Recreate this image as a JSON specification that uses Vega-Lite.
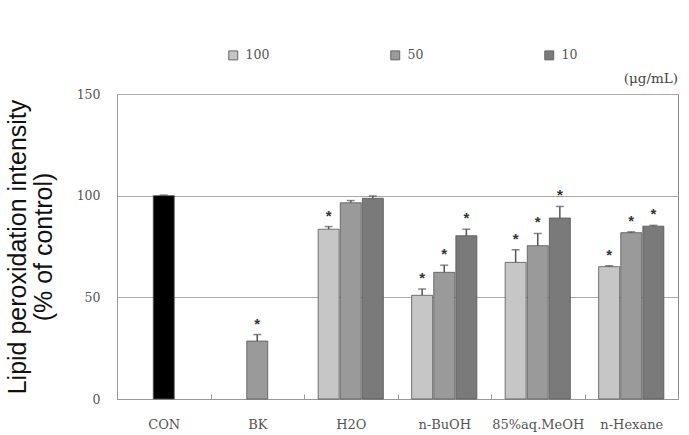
{
  "$schema": "https://vega.github.io/schema/vega-lite/v6.json",
  "width": 561,
  "height": 305,
  "autosize": {"type": "none"},
  "padding": {"left": 117, "top": 94, "right": 11, "bottom": 36},
  "background": "white",
  "title": {
    "text": "(μg/mL)",
    "anchor": "end",
    "orient": "top",
    "frame": "group",
    "offset": -36,
    "font": "DejaVu Serif",
    "fontSize": 13.5,
    "fontWeight": "normal",
    "color": "#444"
  },
  "config": {
    "view": {"stroke": "#888", "strokeWidth": 1},
    "axis": {"labelFont": "DejaVu Serif", "labelFontSize": 12.5, "labelColor": "#555"}
  },
  "data": {
    "values": [
      {"group": "CON", "slot": "b", "series": "CON", "value": 100, "err": 0.3, "sig": ""},
      {"group": "BK", "slot": "b", "series": "50", "value": 28.5, "err": 3.2, "sig": "*"},
      {"group": "H2O", "slot": "a", "series": "100", "value": 83.5, "err": 1.3, "sig": "*"},
      {"group": "H2O", "slot": "b", "series": "50", "value": 96.5, "err": 1.1, "sig": ""},
      {"group": "H2O", "slot": "c", "series": "10", "value": 98.7, "err": 1.1, "sig": ""},
      {"group": "n-BuOH", "slot": "a", "series": "100", "value": 51, "err": 3.1, "sig": "*"},
      {"group": "n-BuOH", "slot": "b", "series": "50", "value": 62.3, "err": 3.5, "sig": "*"},
      {"group": "n-BuOH", "slot": "c", "series": "10", "value": 80.3, "err": 3.2, "sig": "*"},
      {"group": "85%aq.MeOH", "slot": "a", "series": "100", "value": 67.2, "err": 6.2, "sig": "*"},
      {"group": "85%aq.MeOH", "slot": "b", "series": "50", "value": 75.4, "err": 6.0, "sig": "*"},
      {"group": "85%aq.MeOH", "slot": "c", "series": "10", "value": 89, "err": 5.7, "sig": "*"},
      {"group": "n-Hexane", "slot": "a", "series": "100", "value": 65.1, "err": 0.4, "sig": "*"},
      {"group": "n-Hexane", "slot": "b", "series": "50", "value": 81.8, "err": 0.4, "sig": "*"},
      {"group": "n-Hexane", "slot": "c", "series": "10", "value": 85, "err": 0.4, "sig": "*"}
    ]
  },
  "transform": [{"calculate": "datum.value + datum.err", "as": "hi"}],
  "encoding": {
    "x": {
      "field": "group",
      "type": "nominal",
      "sort": ["CON", "BK", "H2O", "n-BuOH", "85%aq.MeOH", "n-Hexane"],
      "scale": {"paddingInner": 0, "paddingOuter": 0},
      "axis": {
        "title": null,
        "labelAngle": 0,
        "tickBand": "extent",
        "tickSize": -5,
        "tickColor": "#999",
        "domainColor": "#999",
        "labelFontSize": 13,
        "labelPadding": 24
      }
    },
    "xOffset": {
      "field": "slot",
      "type": "nominal",
      "scale": {"domain": ["a", "b", "c"], "paddingInner": 0.05, "paddingOuter": 0.64}
    }
  },
  "layer": [
    {
      "mark": {"type": "bar", "stroke": "#555", "strokeWidth": 0.8},
      "encoding": {
        "y": {
          "field": "value",
          "type": "quantitative",
          "scale": {"domain": [0, 150], "nice": false},
          "axis": {
            "values": [0, 50, 100, 150],
            "grid": true,
            "gridColor": "#aaa",
            "ticks": false,
            "tickSize": 0,
            "labelPadding": 17,
            "domainColor": "#999",
            "title": ["Lipid peroxidation intensity", "(% of control)"],
            "titleFont": "Liberation Sans",
            "titleFontSize": 25,
            "titleFontWeight": "normal",
            "titleColor": "#111",
            "titleLineHeight": 26,
            "titlePadding": 20
          }
        },
        "color": {
          "field": "series",
          "type": "nominal",
          "scale": {
            "domain": ["CON", "100", "50", "10"],
            "range": ["#000000", "#c6c6c6", "#9a9a9a", "#7a7a7a"]
          },
          "legend": {
            "values": ["100", "50", "10"],
            "title": null,
            "orient": "none",
            "legendX": 110,
            "legendY": -45,
            "direction": "horizontal",
            "columns": 3,
            "columnPadding": 118,
            "symbolType": "square",
            "symbolSize": 80,
            "symbolStrokeColor": "#666",
            "symbolStrokeWidth": 1,
            "labelFont": "DejaVu Serif",
            "labelFontSize": 12.5,
            "labelColor": "#555",
            "labelOffset": 6
          }
        }
      }
    },
    {
      "mark": {"type": "rule", "color": "#555", "strokeWidth": 1.5},
      "encoding": {
        "y": {"field": "value", "type": "quantitative"},
        "y2": {"field": "hi"}
      }
    },
    {
      "mark": {"type": "tick", "color": "#555", "thickness": 1.5, "size": 8},
      "encoding": {
        "y": {"field": "hi", "type": "quantitative"}
      }
    },
    {
      "mark": {"type": "text", "font": "Liberation Sans", "fontSize": 15, "fontWeight": "bold", "color": "#333", "baseline": "middle", "dy": -11},
      "encoding": {
        "y": {"field": "hi", "type": "quantitative"},
        "text": {"field": "sig"}
      }
    }
  ]
}
